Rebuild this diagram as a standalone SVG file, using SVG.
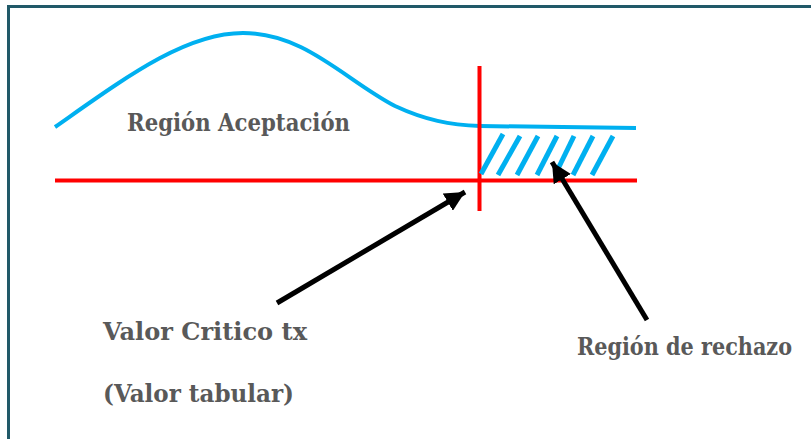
<svg xmlns="http://www.w3.org/2000/svg" width="811" height="439" viewBox="0 0 811 439">
  <style>
    text { font-family: 'DejaVu Serif', serif; font-weight: bold; fill: #595959; font-size: 23.5px; }
    .red { stroke: #ff0000; stroke-width: 4; fill: none; }
    .blue { stroke: #00b0f0; stroke-width: 4; fill: none; }
    .hatch { stroke: #00b0f0; stroke-width: 5; fill: none; }
    .arrow { stroke: #000; stroke-width: 5; fill: none; marker-end: url(#ah); }
  </style>
  <defs>
    <marker id="ah" markerUnits="userSpaceOnUse" markerWidth="22" markerHeight="20" refX="20" refY="10" orient="auto">
      <path d="M0,0 L20,10 L0,20 Z" fill="#000"/>
    </marker>
  </defs>
  <rect x="0" y="0" width="811" height="439" fill="#fff"/>
  <path d="M8.5,439 L8.5,6.5 L811,6.5" fill="none" stroke="#215968" stroke-width="3"/>

  <g id="curve">
    <path class="blue" d="M55,127 C125,78 185,33 243,33 C305,33 345,80 395,106 C425,120 450,125 480,126 L636,128"/>
  </g>
  <g id="axis">
    <line class="red" x1="55" y1="180.5" x2="637" y2="180.5"/>
  </g>
  <g id="critical-line">
    <line class="red" x1="479.5" y1="66" x2="479.5" y2="211"/>
  </g>
  <g id="rejection-hatch" class="hatch">
    <line x1="481" y1="174" x2="503" y2="134"/>
    <line x1="498" y1="175" x2="520" y2="136"/>
    <line x1="517" y1="175" x2="538" y2="136"/>
    <line x1="537" y1="175" x2="557" y2="136"/>
    <line x1="555" y1="175" x2="574" y2="136"/>
    <line x1="573" y1="175" x2="593" y2="136"/>
    <line x1="592" y1="175" x2="613" y2="136"/>
  </g>
  <g id="label-aceptacion">
    <text x="127" y="131" textLength="223" lengthAdjust="spacingAndGlyphs">Región Aceptación</text>
  </g>
  <g id="label-critico">
    <text x="103" y="340" textLength="204" lengthAdjust="spacingAndGlyphs">Valor Critico tx</text>
    <text x="103" y="402" textLength="191" lengthAdjust="spacingAndGlyphs">(Valor tabular)</text>
  </g>
  <g id="label-rechazo">
    <text x="577" y="355" textLength="215" lengthAdjust="spacingAndGlyphs">Región de rechazo</text>
  </g>
  <g id="connectors">
    <line class="arrow" x1="277" y1="303" x2="465" y2="192"/>
    <line class="arrow" x1="647" y1="320" x2="552" y2="162"/>
  </g>
</svg>
